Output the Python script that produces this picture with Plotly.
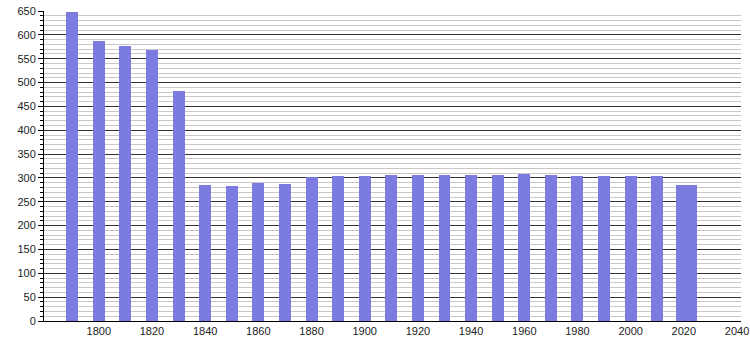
import plotly.graph_objects as go

years = [1790, 1800, 1810, 1820, 1830, 1840, 1850, 1860, 1870, 1880, 1890, 1900,
         1910, 1920, 1930, 1940, 1950, 1960, 1970, 1980, 1990, 2000, 2010, 2021]
population = [647, 587, 577, 568, 482, 285, 283, 290, 287, 301, 304, 304,
              306, 306, 306, 306, 306, 308, 306, 304, 304, 304, 304, 285]
bar_widths = [4.5] * 23 + [8]

x_ticks = list(range(1800, 2041, 20))
y_ticks = list(range(0, 651, 50))

fig = go.Figure(go.Bar(
    x=years, y=population, width=bar_widths,
    marker=dict(color="#7b7be0", line=dict(width=0)),
    hoverinfo="x+y",
))

fig.update_layout(
    width=750, height=340,
    margin=dict(l=44, r=9, t=11, b=19),
    paper_bgcolor="white", plot_bgcolor="white",
    font=dict(family="Liberation Sans, Arial, sans-serif", size=11, color="#222"),
    showlegend=False,
    bargap=0,
)
fig.update_xaxes(
    range=[1779.4, 2041.5], tickvals=x_ticks, ticks="", showgrid=False,
    showline=True, linecolor="#000", linewidth=1, zeroline=False,
    tickfont=dict(size=11), automargin=False,
)
fig.update_yaxes(
    range=[0, 650], tickvals=y_ticks, ticks="outside", ticklen=5, tickcolor="#000",
    showgrid=True, gridcolor="#333", gridwidth=1,
    showline=True, linecolor="#000", linewidth=1, zeroline=False,
    minor=dict(dtick=10, showgrid=True, gridcolor="#c8c8c8", gridwidth=1,
               ticks="outside", ticklen=3, tickcolor="#000"),
    layer="below traces", automargin=False,
)

fig.write_html("out.html")
